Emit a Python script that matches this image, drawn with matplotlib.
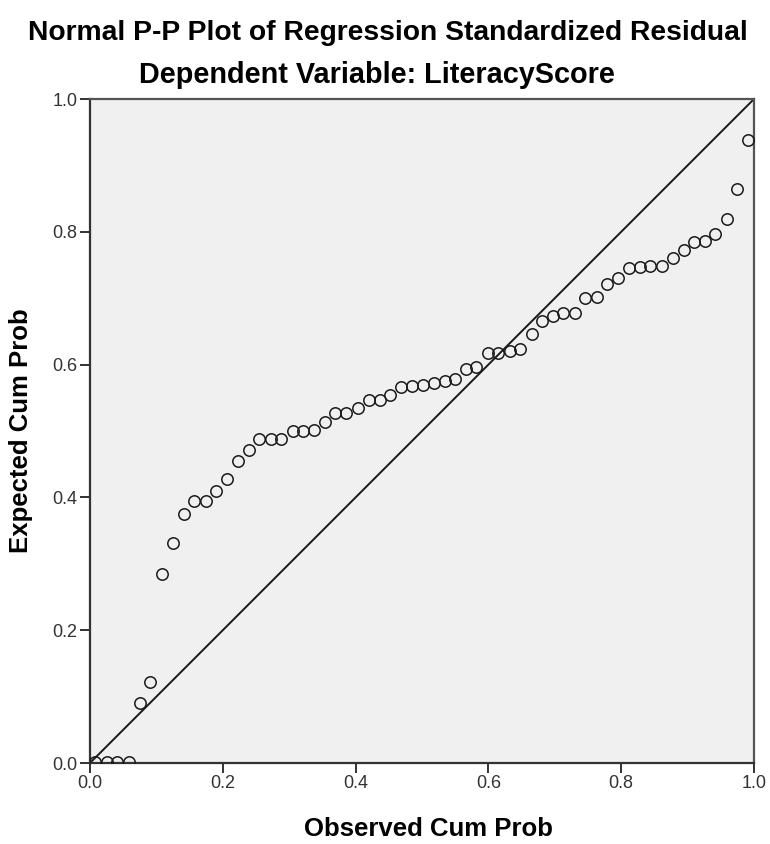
import matplotlib
matplotlib.use("Agg")
import matplotlib.pyplot as plt

# P-P plot values
observed_cum_prob = [
    0.008, 0.025, 0.041, 0.058, 0.075, 0.091, 0.108, 0.125, 0.141, 0.157,
    0.174, 0.190, 0.206, 0.223, 0.239, 0.255, 0.272, 0.288, 0.305, 0.321,
    0.337, 0.354, 0.369, 0.386, 0.403, 0.420, 0.436, 0.452, 0.468, 0.485,
    0.501, 0.518, 0.534, 0.550, 0.566, 0.582, 0.599, 0.615, 0.632, 0.648,
    0.665, 0.681, 0.697, 0.713, 0.730, 0.746, 0.763, 0.779, 0.795, 0.811,
    0.828, 0.844, 0.861, 0.878, 0.894, 0.910, 0.926, 0.942, 0.959, 0.975,
    0.991,
]
expected_cum_prob = [
    0.001, 0.001, 0.001, 0.001, 0.090, 0.122, 0.284, 0.332, 0.375, 0.394,
    0.394, 0.410, 0.428, 0.455, 0.471, 0.488, 0.488, 0.488, 0.500, 0.500,
    0.501, 0.514, 0.527, 0.527, 0.535, 0.546, 0.546, 0.554, 0.567, 0.568,
    0.569, 0.573, 0.576, 0.579, 0.594, 0.596, 0.618, 0.618, 0.621, 0.623,
    0.646, 0.665, 0.673, 0.677, 0.678, 0.701, 0.702, 0.722, 0.731, 0.745,
    0.747, 0.748, 0.749, 0.761, 0.772, 0.784, 0.786, 0.797, 0.820, 0.864,
    0.938,
]
ref_line = [0.0, 1.0]
ticks = [0.0, 0.2, 0.4, 0.6, 0.8, 1.0]

plt.rcParams['font.family'] = ['Liberation Sans', 'DejaVu Sans']

fig = plt.figure(figsize=(7.7, 8.44), dpi=100)
ax = fig.add_axes([90 / 770, 1 - 763 / 844, 664 / 770, 664 / 844])
ax.set_facecolor('#f0f0f0')

ax.plot(ref_line, ref_line, color='#1a1a1a', linewidth=1.4, zorder=2)
ax.plot(observed_cum_prob, expected_cum_prob, linestyle='none', marker='o',
        markersize=8.2, markerfacecolor='none', markeredgecolor='#1a1a1a',
        markeredgewidth=1.1, zorder=3)

ax.set_xlim(0, 1)
ax.set_ylim(0, 1)
ax.set_xticks(ticks)
ax.set_yticks(ticks)
ax.set_xticklabels([f"{t:.1f}" for t in ticks])
ax.set_yticklabels([f"{t:.1f}" for t in ticks])
ax.tick_params(direction='out', length=7, width=1.3, color='#222222',
               labelsize=13, pad=2, labelcolor='#333333')

for s in ax.spines.values():
    s.set_color('#555555')
    s.set_linewidth(1.6)
ax.spines['left'].set_color('#333333')
ax.spines['bottom'].set_color('#333333')

ax.set_xlabel("Observed Cum Prob", fontsize=18.5, fontweight='bold')
ax.set_ylabel("Expected Cum Prob", fontsize=18.5, fontweight='bold')
ax.xaxis.set_label_coords(0.51, -0.1)
ax.xaxis.label.set_va('center')
ax.yaxis.set_label_coords(-0.104, 0.5)
ax.yaxis.label.set_va('center')

fig.text(388 / 770, 1 - 33 / 844, "Normal P-P Plot of Regression Standardized Residual",
         ha='center', va='center', fontsize=20.3, fontweight='bold')
fig.text(377 / 770, 1 - 75 / 844, "Dependent Variable: LiteracyScore",
         ha='center', va='center', fontsize=20.8, fontweight='bold')

fig.savefig("out.png", dpi=100, facecolor='white')
